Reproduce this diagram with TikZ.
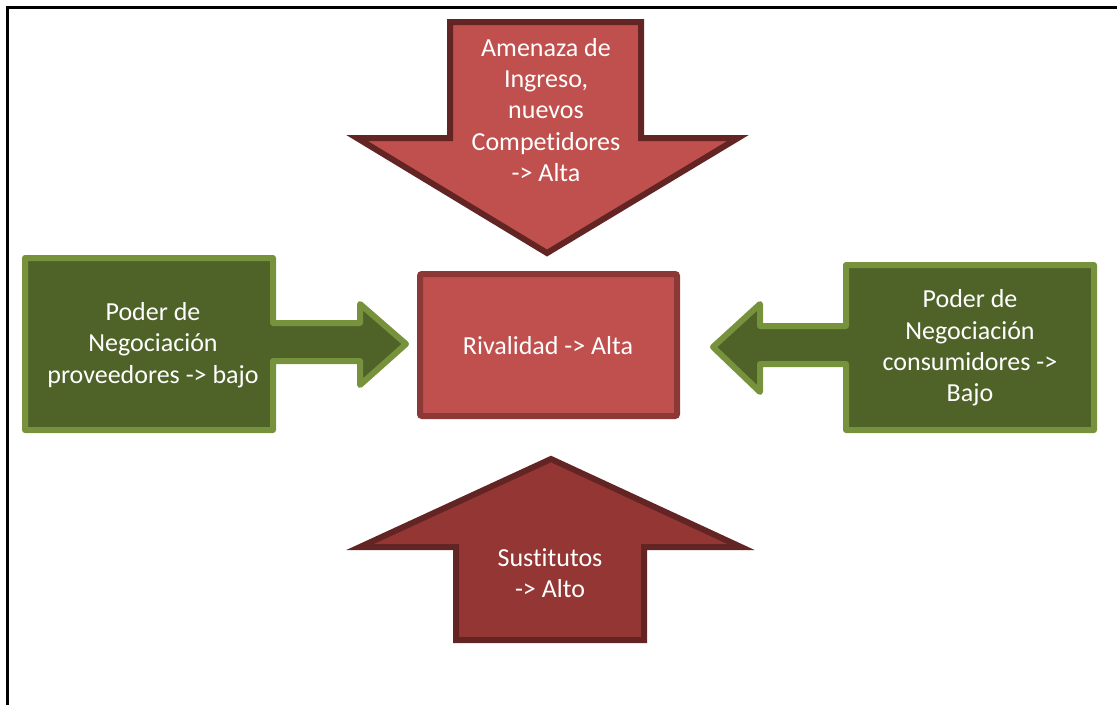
\documentclass[tikz,border=0pt]{standalone}
\usepackage{fontspec}
\setmainfont[RawFeature=-liga]{Carlito}
\definecolor{redfill}{HTML}{C0504D}
\definecolor{redline}{HTML}{632523}
\definecolor{darkred}{HTML}{943634}
\definecolor{boxline}{HTML}{8C3836}
\definecolor{greenfill}{HTML}{4F6228}
\definecolor{greenline}{HTML}{76923C}
\tikzset{
  redarrow/.style={fill=redfill, draw=redline, line width=6pt, line join=miter},
  subarrow/.style={fill=darkred, draw=redline, line width=6pt, line join=miter},
  greenshape/.style={fill=greenfill, draw=greenline, line width=6pt, line join=round},
  centerbox/.style={fill=redfill, draw=boxline, line width=6pt, rounded corners=2pt},
  label/.style={text=white, align=center, inner sep=0pt, font=\fontsize{26}{31.3}\selectfont},
  frameline/.style={draw=black, line width=3pt}
}
\begin{document}
\begin{tikzpicture}[x=1pt,y=-1pt]
\useasboundingbox (0,0) rectangle (1117,705);
% frame
\draw[frameline] (7.5,705) -- (7.5,7) -- (1117,7);
% top arrow
\draw[redarrow] (450,22) -- (641,22) -- (641,138) -- (738,138) -- (547,253) -- (357,138) -- (450,138) -- cycle;
% bottom arrow
\draw[subarrow] (456,640) -- (456,547) -- (360,547) -- (551,459) -- (741,547) -- (644,547) -- (644,640) -- cycle;
% left shape
\draw[greenshape] (25,258) -- (273,258) -- (273,323) -- (360,323) -- (360,304) -- (406,344) -- (360,385) -- (360,361) -- (273,361) -- (273,430) -- (25,430) -- cycle;
% right shape
\draw[greenshape] (1094,265) -- (846,265) -- (846,326) -- (760,326) -- (760,304) -- (713,347) -- (760,392) -- (760,364) -- (846,364) -- (846,430) -- (1094,430) -- cycle;
% center box
\draw[centerbox] (420,274) rectangle (677,416);
% texts
\node[label] (center) at (548,346) {Rivalidad -> Alta};
\node[label] (top) at (546,110) {Amenaza de\\Ingreso,\\nuevos\\Competidores\\-> Alta};
\node[label] (bottom) at (550,573) {Sustitutos\\-> Alto};
\node[label] (left) at (153,345) {Poder de\\Negociación\\proveedores -> bajo};
\node[label] (right) at (970,348) {Poder de\\Negociación\\consumidores ->\\Bajo};
\end{tikzpicture}
\end{document}
